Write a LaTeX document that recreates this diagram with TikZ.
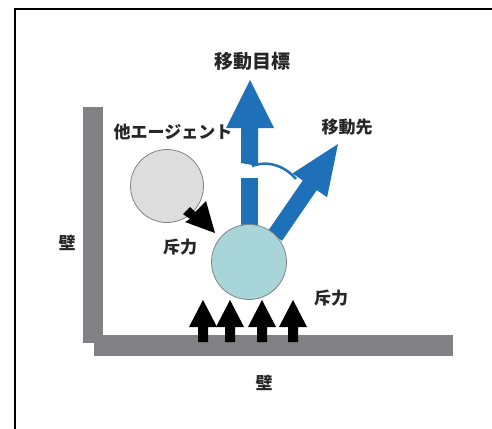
\documentclass[tikz,border=0pt]{standalone}
\usepackage{fontspec}
\setmainfont{Noto Sans CJK JP}
\definecolor{wallgray}{RGB}{128,128,133}
\definecolor{moveblue}{RGB}{30,113,185}
\definecolor{agentfill}{RGB}{168,213,216}
\definecolor{otherfill}{RGB}{221,221,221}
\definecolor{edgegray}{RGB}{130,130,130}
\tikzset{
  lbl/.style={font=\fontsize{17}{17}\selectfont\bfseries, inner sep=0pt, text=black!85},
  wall/.style={fill=wallgray, draw=none},
  blue arrow/.style={fill=moveblue, draw=none},
  black arrow/.style={fill=black, draw=none},
}
\begin{document}
\begin{tikzpicture}[x=1pt,y=-1pt]
\useasboundingbox (0,0) rectangle (492,428);
\clip (0,0) rectangle (492,428);
\fill[white] (0,0) rectangle (492,428);
% frame
\draw[line width=1.8pt] (15,440) -- (15,9) -- (500,9);
% walls
\fill[wall] (83,107) rectangle (103,343);
\fill[wall] (94,335) rectangle (453,356);
% up arrows (wall repulsion)
\foreach \x in {203,230,262,293}{
  \fill[black arrow] (\x-5,342) -- (\x-5,327) -- (\x-14,327) -- (\x,300) -- (\x+14,327) -- (\x+5,327) -- (\x+5,342) -- cycle;
}
% blue vertical arrow
\fill[blue arrow] (241,228) rectangle (258,178);
\fill[blue arrow] (241,163) -- (241,128) -- (226,128) -- (250,80) -- (274,128) -- (258,128) -- (258,166) -- cycle;
% blue diagonal arrow
\fill[blue arrow] (268,231) -- (302.8,180.5) -- (292.5,173.4) -- (338,144) -- (327.1,197.2) -- (316.8,190.1) -- (282,240.8) -- cycle;
% arc
\draw[moveblue, line width=2.5pt] (252,166) .. controls (268,160) and (285,166) .. (296,179);
% agents
\node[circle, minimum size=75pt, fill=agentfill, draw=edgegray, line width=0.8pt] (agent) at (249,262) {};
\node[circle, minimum size=73pt, fill=otherfill, draw=edgegray, line width=0.8pt] (other) at (167,186) {};
% repulsion arrow from other agent
\fill[black arrow] (183,214) -- (190,207) -- (195,212) -- (206,201) -- (215,233) -- (185,222) -- (190,219) -- cycle;
% labels
\node[lbl, font=\fontsize{19}{19}\selectfont\bfseries] (goal) at (252,61) {移動目標};
\node[lbl] (dest) at (347,127) {移動先};
\node[lbl] (otherlbl) at (173,132) {他エージェント};
\node[lbl] (rep1) at (180,247) {斥力};
\node[lbl] (rep2) at (331,298) {斥力};
\node[lbl] (wallL) at (67,243) {壁};
\node[lbl] (wallB) at (264,383) {壁};
\end{tikzpicture}
\end{document}
